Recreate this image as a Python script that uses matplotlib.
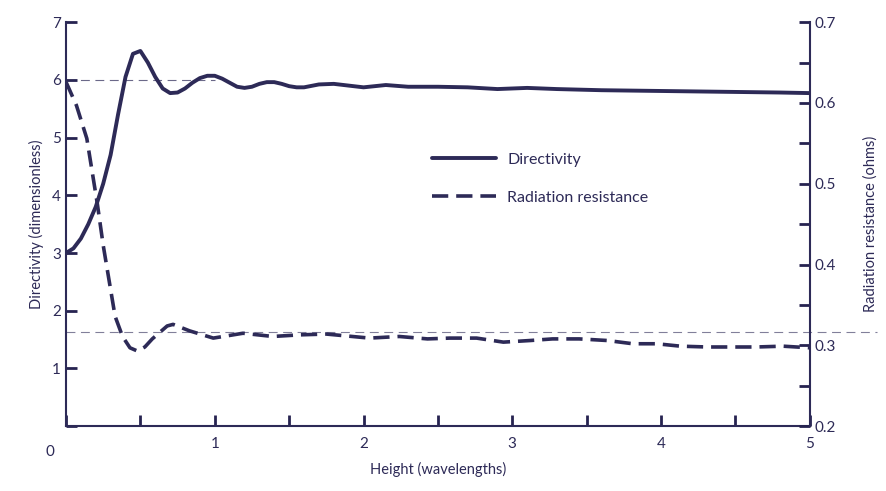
import numpy as np
import matplotlib
matplotlib.use("Agg")
from matplotlib import pyplot as plt

# height above ground (wavelengths) and directivity
h_dir = [0.0, 0.05, 0.1, 0.15, 0.2, 0.25, 0.3, 0.35, 0.4, 0.45, 0.5, 0.55, 0.6, 0.65,
         0.7, 0.75, 0.8, 0.85, 0.9, 0.95, 1.0, 1.05, 1.1, 1.15, 1.2, 1.25, 1.3, 1.35,
         1.4, 1.45, 1.5, 1.55, 1.6, 1.7, 1.8, 1.9, 2.0, 2.15, 2.3, 2.5, 2.7, 2.9, 3.1,
         3.3, 3.6, 3.9, 4.2, 4.5, 4.8, 5.0]
directivity = [3.0, 3.08, 3.25, 3.5, 3.8, 4.2, 4.7, 5.4, 6.05, 6.45, 6.5, 6.3, 6.05, 5.85,
               5.77, 5.78, 5.85, 5.95, 6.03, 6.07, 6.07, 6.02, 5.95, 5.88, 5.86, 5.88, 5.93, 5.96,
               5.96, 5.93, 5.89, 5.87, 5.87, 5.92, 5.93, 5.9, 5.87, 5.91, 5.88, 5.88, 5.87, 5.84, 5.86,
               5.84, 5.82, 5.81, 5.8, 5.79, 5.78, 5.77]

# radiation resistance (ohms)
h_res = [0.0, 0.07, 0.14, 0.21, 0.25, 0.33, 0.38, 0.43, 0.48, 0.53, 0.58, 0.68, 0.72, 0.83,
         0.99, 1.19, 1.39, 1.57, 1.75, 2.04, 2.24, 2.43, 2.58, 2.76, 2.94, 3.12, 3.27, 3.45,
         3.64, 3.81, 3.97, 4.13, 4.31, 4.48, 4.64, 4.82, 5.0]
resistance = [0.626, 0.597, 0.556, 0.476, 0.424, 0.336, 0.311, 0.297, 0.293, 0.298, 0.308, 0.324, 0.326, 0.318,
              0.309, 0.315, 0.311, 0.313, 0.314, 0.309, 0.311, 0.308, 0.309, 0.309, 0.304, 0.306, 0.308, 0.308,
              0.306, 0.302, 0.302, 0.299, 0.298, 0.298, 0.298, 0.299, 0.297]

ink = '#2d2a57'
tick_ink = '#262350'
plt.rcParams['font.family'] = ['Lato', 'DejaVu Sans']
plt.rcParams['text.color'] = ink
plt.rcParams['axes.labelcolor'] = ink

fig = plt.figure(figsize=(8.87, 4.91), dpi=100)
ax = fig.add_axes([0.0744, 0.132, 0.8386, 0.823])
ax2 = ax.twinx()

# thin reference lines
ax.plot([0, 1.0], [6, 6], color=ink, lw=0.8, dashes=(8, 5), alpha=0.7)
ax2.plot([0, 5.45], [0.317, 0.317], color=ink, lw=0.8, dashes=(8, 5), alpha=0.6, clip_on=False)

l1, = ax.plot(h_dir, directivity, color=ink, lw=2.8, solid_capstyle='round', label='Directivity')
l2, = ax2.plot(h_res, resistance, color=ink, lw=2.6, dashes=(4.5, 2.2), label='Radiation resistance')

ax.set_xlim(0, 5)
ax.set_ylim(0, 7)
ax2.set_ylim(0.2, 0.7)

for a in (ax, ax2):
    a.spines['top'].set_visible(False)
    for s in a.spines.values():
        s.set_color(ink)
        s.set_linewidth(1.5)
ax.spines['right'].set_visible(False)
ax2.spines['left'].set_visible(False)
ax2.spines['bottom'].set_visible(False)

ax.set_xticks(np.arange(0, 5.01, 0.5))
ax.set_xticklabels(['', '', '1', '', '2', '', '3', '', '4', '', '5'])
ax.set_yticks(range(0, 8))
ax.set_yticklabels([''] + [str(i) for i in range(1, 8)])
ax.tick_params(axis='x', which='major', direction='in', length=8, width=2,
               color=tick_ink, labelcolor=ink, labelsize=11, bottom=True, pad=8)
ax.tick_params(axis='y', which='major', direction='in', length=8, width=2,
               color=tick_ink, labelcolor=ink, labelsize=11, left=True)
ax.text(-0.11, -0.45, '0', fontsize=11, ha='center', va='center')

ax2.set_yticks([0.2, 0.3, 0.4, 0.5, 0.6, 0.7])
ax2.set_yticklabels(['0.2', '0.3', '0.4', '0.5', '0.6', '0.7'])
ax2.set_yticks([0.25, 0.35, 0.45, 0.55, 0.65], minor=True)
ax2.tick_params(axis='y', which='both', direction='in', length=8, width=2,
                color=tick_ink, labelcolor=ink, labelsize=11, right=True)

ax.set_xlabel('Height (wavelengths)', fontsize=10.5, labelpad=8)
ax.set_ylabel('Directivity (dimensionless)', fontsize=10.5, labelpad=6)
ax2.set_ylabel('Radiation resistance (ohms)', fontsize=10.5, rotation=90, labelpad=20)

fig.legend(handles=[l1, l2], loc='upper left', bbox_to_anchor=(418 / 887, 1 - 138 / 491),
           frameon=False, fontsize=11.5, handlelength=4.0, labelspacing=1.5, handletextpad=0.7)

fig.savefig('out.png', dpi=100)
